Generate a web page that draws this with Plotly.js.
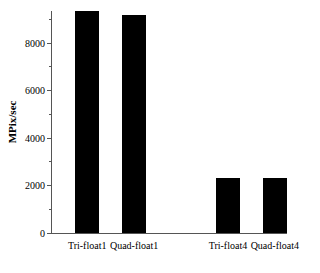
<!DOCTYPE html>
<html><head><meta charset="utf-8">
<script src="https://cdn.plot.ly/plotly-3.0.1.min.js"></script>
<style>html,body{margin:0;padding:0;background:#fff}#chart{width:320px;height:273px}</style>
</head><body><div id="chart"></div>
<script>
const categories = ['Tri-float1', 'Quad-float1', ' ', 'Tri-float4', 'Quad-float4'];
const mpixPerSec = [9350, 9190, null, 2300, 2300];
const yTickVals = [0, 2000, 4000, 6000, 8000];

const trace = {
  type: 'bar', x: categories, y: mpixPerSec, width: 0.52,
  marker: {color: '#000', line: {width: 0}}, hoverinfo: 'skip'
};
const layout = {
  width: 320, height: 273,
  margin: {l: 52, r: 33, t: 11, b: 40},
  paper_bgcolor: '#fff', plot_bgcolor: '#fff',
  font: {family: 'Liberation Serif, Times New Roman, serif', color: '#000', size: 10},
  showlegend: false, bargap: 0,
  xaxis: {
    type: 'category', range: [-0.75, 4.26], showgrid: false, zeroline: false,
    showline: true, linecolor: '#555', linewidth: 1, ticks: '',
    tickfont: {size: 10}, ticklabelstandoff: 3, fixedrange: true
  },
  yaxis: {
    range: [0, 9350], tickvals: yTickVals, showgrid: false, zeroline: false,
    showline: true, linecolor: '#555', linewidth: 1,
    ticks: 'outside', ticklen: 4, tickcolor: '#555', tickfont: {size: 10},
    minor: {dtick: 1000, tick0: 0, ticks: 'outside', ticklen: 2, tickcolor: '#555'},
    title: {text: '<b>MPix/sec</b>', font: {size: 11}, standoff: 6}
  }
};
Plotly.newPlot('chart', [trace], layout, {displayModeBar: false, staticPlot: true});
</script></body></html>
